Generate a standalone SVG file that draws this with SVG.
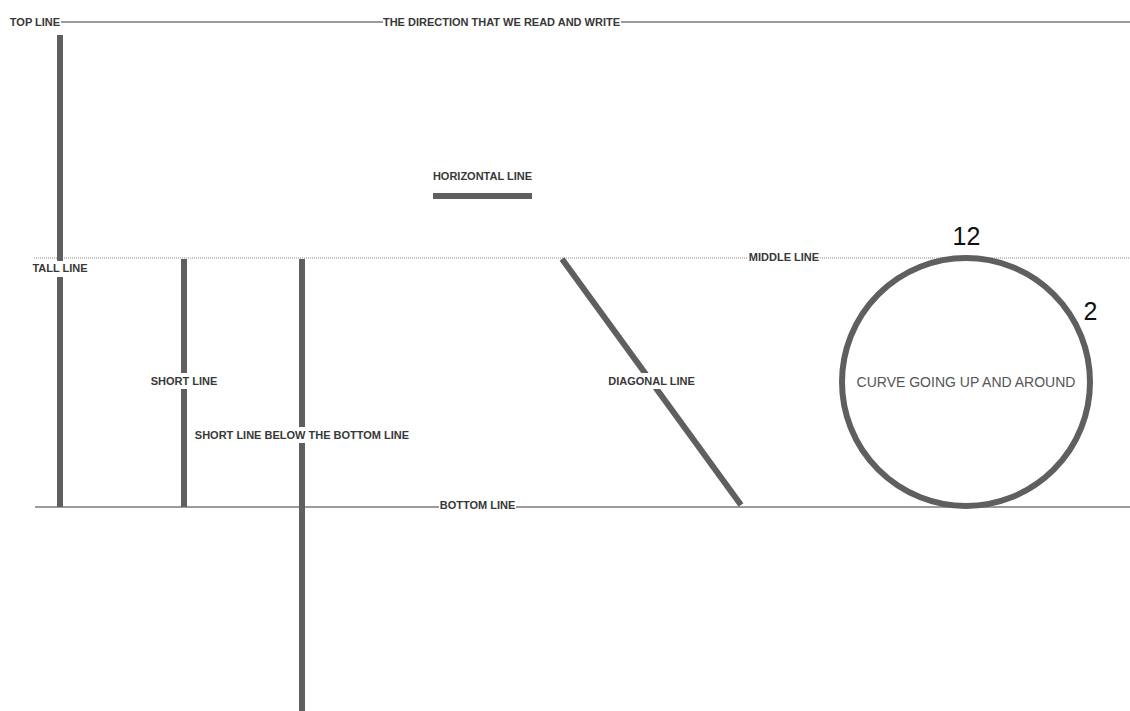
<svg xmlns="http://www.w3.org/2000/svg" width="1130" height="711" viewBox="0 0 1130 711">
<style>
.guide{stroke:#7a7a7a;stroke-width:1.6;fill:none}
.dot{stroke:#8a8a8a;stroke-width:1;stroke-dasharray:1 1;fill:none}
.thick{stroke:#5f5f5f;stroke-width:6;fill:none}
.bg{fill:#ffffff}
.lbl{font-family:"Liberation Sans",Arial,sans-serif;font-size:11px;font-weight:bold;fill:#383838}
.num{font-family:"Liberation Sans",Arial,sans-serif;font-size:25px;fill:#111111}
.curve{font-family:"Liberation Sans",Arial,sans-serif;font-size:14px;fill:#555555}
</style>
<rect width="1130" height="711" fill="#ffffff"/>
<g id="connectors">
<line id="top-line" class="guide" x1="60" y1="22" x2="1130" y2="22"/>
<line id="middle-line" class="dot" x1="34" y1="258" x2="1130" y2="258"/>
<line id="bottom-line" class="guide" x1="35" y1="507" x2="1130" y2="507"/>
<line id="tall" class="thick" x1="60" y1="35" x2="60" y2="507"/>
<line id="short" class="thick" x1="184" y1="259" x2="184" y2="507"/>
<line id="short-below" class="thick" x1="302" y1="259" x2="302" y2="711"/>
<line id="horizontal" class="thick" x1="433" y1="196" x2="532" y2="196"/>
<line id="diagonal" class="thick" x1="562" y1="259" x2="741" y2="505"/>
<circle id="curve" class="thick" cx="966" cy="382" r="124"/>
</g>
<g id="top-line-label">
<rect class="bg" x="8" y="15" width="53" height="13"/>
<text class="lbl" x="35" y="25.5" text-anchor="middle">TOP LINE</text>
</g>
<g id="direction-label">
<rect class="bg" x="383" y="15" width="238" height="13"/>
<text class="lbl" x="501.5" y="25.5" text-anchor="middle">THE DIRECTION THAT WE READ AND WRITE</text>
</g>
<g id="tall-line-label">
<rect class="bg" x="32" y="261" width="57" height="16"/>
<text class="lbl" x="60" y="271.5" text-anchor="middle">TALL LINE</text>
</g>
<g id="short-line-label">
<rect class="bg" x="150" y="373" width="68" height="16"/>
<text class="lbl" x="184" y="384.5" text-anchor="middle">SHORT LINE</text>
</g>
<g id="short-below-label">
<rect class="bg" x="194" y="427" width="216" height="16"/>
<text class="lbl" x="302" y="438.5" text-anchor="middle">SHORT LINE BELOW THE BOTTOM LINE</text>
</g>
<g id="horizontal-label">
<text class="lbl" x="482.5" y="179.5" text-anchor="middle">HORIZONTAL LINE</text>
</g>
<g id="middle-line-label">
<rect class="bg" x="748" y="251" width="72" height="13"/>
<text class="lbl" x="784" y="260.5" text-anchor="middle">MIDDLE LINE</text>
</g>
<g id="diagonal-label">
<rect class="bg" x="607" y="373" width="89" height="16"/>
<text class="lbl" x="651.5" y="384.5" text-anchor="middle">DIAGONAL LINE</text>
</g>
<g id="bottom-line-label">
<rect class="bg" x="439" y="499" width="77" height="14"/>
<text class="lbl" x="477.5" y="508.5" text-anchor="middle">BOTTOM LINE</text>
</g>
<g id="curve-label">
<text class="curve" x="966" y="386.5" text-anchor="middle">CURVE GOING UP AND AROUND</text>
<text class="num" x="966.5" y="245" text-anchor="middle">12</text>
<text class="num" x="1090.5" y="320" text-anchor="middle">2</text>
</g>
</svg>
